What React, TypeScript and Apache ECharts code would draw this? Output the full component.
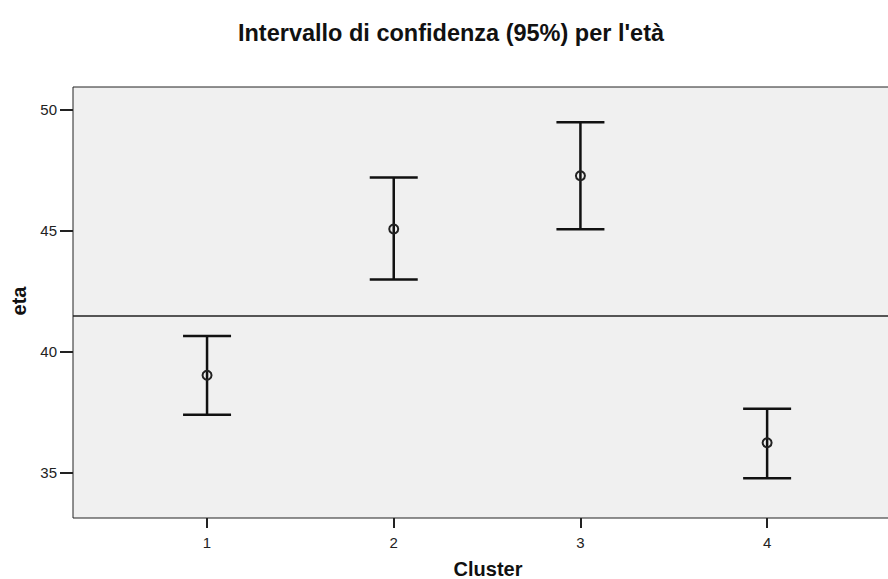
import React, { useEffect, useRef } from "react";
import * as echarts from "echarts";

const clusters = [1, 2, 3, 4];
const means = [39.01, 45.05, 47.25, 36.22];
const lowers = [37.38, 42.97, 45.04, 34.75];
const uppers = [40.63, 47.18, 49.46, 37.62];
const referenceValue = 41.46;
const yTicks = [35, 40, 45, 50];
const xTicks = [1, 2, 3, 4];

const FONT = "'Liberation Sans', Arial, sans-serif";

export default function App() {
  const ref = useRef<HTMLDivElement>(null);
  useEffect(() => {
    if (!ref.current) return;
    const chart = echarts.init(ref.current, null, { renderer: "svg" });
    const data = clusters.map((c, i) => [c, lowers[i], uppers[i], means[i]]);
    chart.setOption({
      animation: false,
      graphic: [
        {
          type: "text",
          x: 451,
          y: 33,
          style: {
            text: "Intervallo di confidenza (95%) per l'età",
            font: `bold 23.5px ${FONT}`,
            fill: "#111",
            textAlign: "center",
            textVerticalAlign: "middle",
          },
        },
        {
          type: "text",
          x: 19,
          y: 301,
          rotation: Math.PI / 2,
          style: {
            text: "eta",
            font: `bold 20px ${FONT}`,
            fill: "#111",
            textAlign: "center",
            textVerticalAlign: "middle",
          },
        },
        {
          type: "text",
          x: 488,
          y: 569,
          style: {
            text: "Cluster",
            font: `bold 20px ${FONT}`,
            fill: "#111",
            textAlign: "center",
            textVerticalAlign: "middle",
          },
        },
      ],
      grid: {
        left: 73,
        right: 5,
        top: 87,
        bottom: 61,
        show: true,
        backgroundColor: "#f0f0f0",
        borderColor: "#222",
        borderWidth: 1,
      },
      xAxis: {
        type: "value",
        min: 0.282,
        max: 4.685,
        axisLine: { show: false },
        splitLine: { show: false },
        axisTick: {
          show: true,
          customValues: xTicks,
          length: 10,
          lineStyle: { color: "#222", width: 2 },
        },
        axisLabel: {
          customValues: xTicks,
          color: "#222",
          fontSize: 15,
          fontFamily: FONT,
          margin: 17,
        },
      },
      yAxis: {
        type: "value",
        min: 33.11,
        max: 50.92,
        axisLine: { show: false },
        splitLine: { show: false },
        axisTick: {
          show: true,
          customValues: yTicks,
          length: 13,
          lineStyle: { color: "#222", width: 2 },
        },
        axisLabel: {
          customValues: yTicks,
          color: "#222",
          fontSize: 15,
          fontFamily: FONT,
          margin: 16,
        },
      },
      series: [
        {
          type: "scatter",
          data: [],
          markLine: {
            silent: true,
            symbol: "none",
            label: { show: false },
            lineStyle: { color: "#222", width: 1.5, type: "solid" },
            data: [{ yAxis: referenceValue }],
          },
        },
        {
          type: "custom",
          data,
          renderItem: (params: any, api: any) => {
            const x = api.value(0);
            const lo = api.coord([x, api.value(1)]);
            const hi = api.coord([x, api.value(2)]);
            const mid = api.coord([x, api.value(3)]);
            const hw = 24;
            const stroke = { stroke: "#111", lineWidth: 2.5, fill: "none" };
            return {
              type: "group",
              children: [
                { type: "line", shape: { x1: hi[0], y1: hi[1], x2: lo[0], y2: lo[1] }, style: stroke },
                { type: "line", shape: { x1: hi[0] - hw, y1: hi[1], x2: hi[0] + hw, y2: hi[1] }, style: stroke },
                { type: "line", shape: { x1: lo[0] - hw, y1: lo[1], x2: lo[0] + hw, y2: lo[1] }, style: stroke },
                {
                  type: "circle",
                  shape: { cx: mid[0], cy: mid[1], r: 4.5 },
                  style: { stroke: "#222", lineWidth: 2, fill: "none" },
                },
              ],
            };
          },
        },
      ],
    });
    return () => chart.dispose();
  }, []);
  return (
    <div
      style={{
        position: "fixed",
        left: 0,
        top: 0,
        width: 888,
        height: 579,
        overflow: "hidden",
        background: "#fff",
      }}
    >
      <div ref={ref} style={{ width: 900, height: 579 }} />
    </div>
  );
}
